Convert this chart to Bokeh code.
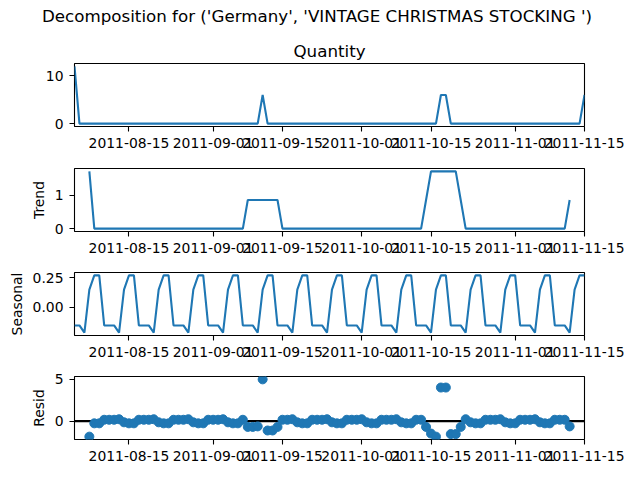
import numpy as np
import pandas as pd
from bokeh.embed import file_html
from bokeh.resources import INLINE
from bokeh.layouts import column
from bokeh.models import (Div, Range1d, FixedTicker, DatetimeTickFormatter,
                          PrintfTickFormatter, Span, Title)
from bokeh.plotting import figure

nan = float("nan")

suptitle = "Decomposition for ('Germany', 'VINTAGE CHRISTMAS STOCKING ')"
dates = pd.date_range("2011-08-04", "2011-11-15", freq="D")

xtick_labels = ["2011-08-15", "2011-09-01", "2011-09-15", "2011-10-01",
                "2011-10-15", "2011-11-01", "2011-11-15"]

quantity = [
    12, 0, 0, 0, 0, 0, 0,
    0, 0, 0, 0, 0, 0, 0,
    0, 0, 0, 0, 0, 0, 0,
    0, 0, 0, 0, 0, 0, 0,
    0, 0, 0, 0, 0, 0, 0,
    0, 0, 0, 6, 0, 0, 0,
    0, 0, 0, 0, 0, 0, 0,
    0, 0, 0, 0, 0, 0, 0,
    0, 0, 0, 0, 0, 0, 0,
    0, 0, 0, 0, 0, 0, 0,
    0, 0, 0, 0, 6, 6, 0,
    0, 0, 0, 0, 0, 0, 0,
    0, 0, 0, 0, 0, 0, 0,
    0, 0, 0, 0, 0, 0, 0,
    0, 0, 0, 0, 0, 6,
]

trend = [
    nan, nan, nan, 1.714, 0, 0, 0,
    0, 0, 0, 0, 0, 0, 0,
    0, 0, 0, 0, 0, 0, 0,
    0, 0, 0, 0, 0, 0, 0,
    0, 0, 0, 0, 0, 0, 0,
    0.857, 0.857, 0.857, 0.857, 0.857, 0.857, 0.857,
    0, 0, 0, 0, 0, 0, 0,
    0, 0, 0, 0, 0, 0, 0,
    0, 0, 0, 0, 0, 0, 0,
    0, 0, 0, 0, 0, 0, 0,
    0, 0.857, 1.714, 1.714, 1.714, 1.714, 1.714,
    1.714, 0.857, 0, 0, 0, 0, 0,
    0, 0, 0, 0, 0, 0, 0,
    0, 0, 0, 0, 0, 0, 0,
    0, 0, 0.857, nan, nan, nan,
]

seasonal = [
    -0.1574, -0.1574, -0.2187, 0.1487, 0.2711, 0.2711, -0.1574,
    -0.1574, -0.1574, -0.2187, 0.1487, 0.2711, 0.2711, -0.1574,
    -0.1574, -0.1574, -0.2187, 0.1487, 0.2711, 0.2711, -0.1574,
    -0.1574, -0.1574, -0.2187, 0.1487, 0.2711, 0.2711, -0.1574,
    -0.1574, -0.1574, -0.2187, 0.1487, 0.2711, 0.2711, -0.1574,
    -0.1574, -0.1574, -0.2187, 0.1487, 0.2711, 0.2711, -0.1574,
    -0.1574, -0.1574, -0.2187, 0.1487, 0.2711, 0.2711, -0.1574,
    -0.1574, -0.1574, -0.2187, 0.1487, 0.2711, 0.2711, -0.1574,
    -0.1574, -0.1574, -0.2187, 0.1487, 0.2711, 0.2711, -0.1574,
    -0.1574, -0.1574, -0.2187, 0.1487, 0.2711, 0.2711, -0.1574,
    -0.1574, -0.1574, -0.2187, 0.1487, 0.2711, 0.2711, -0.1574,
    -0.1574, -0.1574, -0.2187, 0.1487, 0.2711, 0.2711, -0.1574,
    -0.1574, -0.1574, -0.2187, 0.1487, 0.2711, 0.2711, -0.1574,
    -0.1574, -0.1574, -0.2187, 0.1487, 0.2711, 0.2711, -0.1574,
    -0.1574, -0.1574, -0.2187, 0.1487, 0.2711, 0.2711,
]

resid = [
    nan, nan, nan, -1.863, -0.271, -0.271, 0.157,
    0.157, 0.157, 0.219, -0.149, -0.271, -0.271, 0.157,
    0.157, 0.157, 0.219, -0.149, -0.271, -0.271, 0.157,
    0.157, 0.157, 0.219, -0.149, -0.271, -0.271, 0.157,
    0.157, 0.157, 0.219, -0.149, -0.271, -0.271, 0.157,
    -0.700, -0.700, -0.638, 4.994, -1.128, -1.128, -0.700,
    0.157, 0.157, 0.219, -0.149, -0.271, -0.271, 0.157,
    0.157, 0.157, 0.219, -0.149, -0.271, -0.271, 0.157,
    0.157, 0.157, 0.219, -0.149, -0.271, -0.271, 0.157,
    0.157, 0.157, 0.219, -0.149, -0.271, -0.271, 0.157,
    0.157, -0.700, -1.496, -1.863, 4.015, 4.015, -1.557,
    -1.557, -0.700, 0.219, -0.149, -0.271, -0.271, 0.157,
    0.157, 0.157, 0.219, -0.149, -0.271, -0.271, 0.157,
    0.157, 0.157, 0.219, -0.149, -0.271, -0.271, 0.157,
    0.157, 0.157, -0.638, nan, nan, nan,
]

FONT = "DejaVu Sans"
BLUE = "#1f77b4"
x_range = Range1d(dates[0], dates[-1])
xticks = [pd.Timestamp(t).value // 10**6 for t in xtick_labels]


def panel(values, ylabel, yticks, yfmt=None, top=5, bottom=36, kind="line"):
    vals = np.array(values, dtype=float)
    lo, hi = np.nanmin(vals), np.nanmax(vals)
    pad = (hi - lo) * 0.05
    p = figure(x_axis_type="datetime", x_range=x_range,
               y_range=Range1d(lo - pad, hi + pad),
               frame_width=510, frame_height=63,
               min_border_left=74, min_border_right=40,
               min_border_top=top, min_border_bottom=bottom,
               toolbar_location=None, tools="", output_backend="svg")
    if kind == "line":
        p.line(dates, vals, line_color=BLUE, line_width=2.1)
    else:
        p.add_layout(Span(location=0, dimension="width", line_color="black",
                          line_width=2.1, level="underlay"))
        p.scatter(dates, vals, size=9, fill_color=BLUE, line_color=BLUE)

    p.xaxis.ticker = FixedTicker(ticks=xticks)
    p.xaxis.formatter = DatetimeTickFormatter(days="%Y-%m-%d", months="%Y-%m-%d",
                                              years="%Y-%m-%d")
    p.yaxis.ticker = FixedTicker(ticks=yticks)
    if yfmt:
        p.yaxis.formatter = PrintfTickFormatter(format=yfmt)
    if ylabel:
        p.yaxis.axis_label = ylabel
    for ax in (p.xaxis, p.yaxis):
        ax.axis_line_color = None
        ax.major_tick_out = 5
        ax.major_tick_in = 0
        ax.major_tick_line_width = 1.1
        ax.minor_tick_line_color = None
        ax.major_label_text_font = FONT
        ax.major_label_text_font_size = "13.9px"
        ax.major_label_text_color = "black"
        ax.axis_label_text_font = FONT
        ax.axis_label_text_font_size = "13.9px"
        ax.axis_label_text_font_style = "normal"
        ax.axis_label_text_color = "black"
        ax.axis_label_standoff = 5
    p.xaxis.major_label_standoff = 6
    p.yaxis.major_label_standoff = 6
    p.grid.grid_line_color = None
    p.outline_line_color = "black"
    p.outline_line_width = 1.1
    p.outline_line_alpha = 1
    return p


header = Div(text=suptitle, width=624, height=26,
             styles={"text-align": "center", "font-family": FONT,
                     "font-size": "16.7px", "line-height": "22px",
                     "color": "black"})

p1 = panel(quantity, None, [0, 10], top=27, bottom=37)
p1.add_layout(Title(text="Quantity", align="center", text_font=FONT,
                    text_font_size="16.7px", text_font_style="normal",
                    text_color="black", standoff=5), "above")
p2 = panel(trend, "Trend", [0, 1])
p3 = panel(seasonal, "Seasonal", [0, 0.25], yfmt="%.2f")
p4 = panel(resid, "Resid", [0, 5], top=5, bottom=30, kind="scatter")

layout = column(header, p1, p2, p3, p4)
open("out.html", "w").write(file_html(layout, INLINE))
